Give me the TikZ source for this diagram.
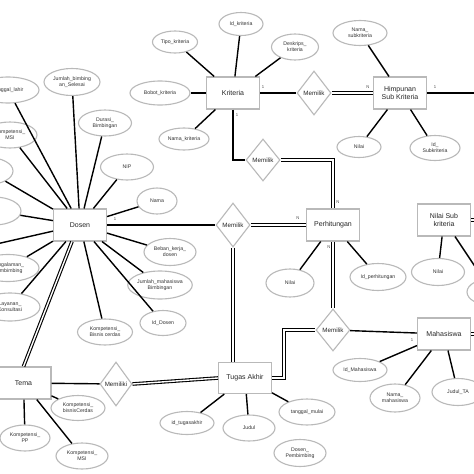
\documentclass[tikz,border=0pt]{standalone}
\usepackage{fontspec}
\newfontfamily\sfx{Liberation Sans}
\usetikzlibrary{shapes.geometric}
\tikzset{
  attr/.style={ellipse, draw=gray!55, line width=1.1pt, fill=white, inner sep=0pt,
    align=center, text=black!80, font=\sfx\fontsize{5.2}{6}\selectfont},
  ent/.style={rectangle, draw=gray!55, line width=1.1pt, fill=white, inner sep=1pt,
    minimum width=53pt, minimum height=32pt, align=center, text=black!85,
    font=\sfx\fontsize{7}{8.5}\selectfont},
  rel/.style={diamond, draw=gray!55, line width=1.1pt, fill=white, inner sep=0.5pt,
    minimum width=34pt, minimum height=44pt, text=black!85,
    font=\sfx\fontsize{6.2}{7}\selectfont},
  conn/.style={line width=1.4pt, black},
  dbl/.style={draw=black, line width=1.1pt, double=white, double distance=1.4pt},
  card/.style={font=\sfx\fontsize{4.2}{5}\selectfont, text=black!70, inner sep=0pt}
}
\newcommand{\att}[6]{\node[attr, minimum width=#4pt, minimum height=#5pt] (#1) at (#2,#3) {#6};}
\begin{document}
\begin{tikzpicture}[x=1pt,y=-1pt]
\useasboundingbox (0,0) rectangle (474,474);
\clip (0,0) rectangle (474,474);
\fill[white] (0,0) rectangle (474,474);

% entities
\node[ent] (Kriteria) at (233,93) {Kriteria};
\node[ent] (Himpunan) at (400,93) {Himpunan\\Sub Kriteria};
\node[ent] (Perh) at (333,225) {Perhitungan};
\node[ent] (Dosen) at (80,225) {Dosen};
\node[ent] (NSK) at (444,220) {Nilai Sub\\kriteria};
\node[ent, minimum width=55pt] (Tema) at (23.5,383) {Tema};
\node[ent, minimum height=31pt] (TA) at (245,378) {Tugas Akhir};
\node[ent] (Mhs) at (444,334) {Mahasiswa};

% relationships
\node[rel] (MK1) at (314,93) {Memilik};
\node[rel, minimum height=42pt] (MK2) at (263,160) {Memilik};
\node[rel] (MK3) at (233,225) {Memilik};
\node[rel, minimum height=42pt] (MK4) at (333,330) {Memilik};
\node[rel, minimum width=32pt] (MK5) at (116,384) {Memiliki};

% attributes
\att{idkrit}{241}{24}{44}{23}{Id\_kriteria}
\att{tipo}{175}{42}{45}{22}{Tipo\_kriteria}
\att{desk}{295}{47}{47}{26}{Deskrips\_\\kriteria}
\att{bobot}{160}{93}{60}{24}{Bobot\_kriteria}
\att{namakrit}{184}{139}{50}{22}{Nama\_kriteria}
\att{namasub}{360}{33}{54}{25}{Nama\_\\subkriteria}
\att{nilaisub}{359}{147}{44}{21}{Nilai}
\att{idsub}{435}{148}{50}{25}{Id\_\\Subkriteria}
\att{nilaip}{290}{283}{48}{28}{Nilai}
\att{idperh}{378}{277}{56}{27}{Id\_perhitungan}
\att{nilainsk}{438}{272}{53}{27}{Nilai}
\att{nskx}{492}{292}{50}{27}{}
\att{tgl}{8}{90}{62}{26}{Tanggal\_lahir}
\att{jbs}{72}{82}{56}{27}{Jumlah\_bimbing\\an\_Selesai}
\att{durasi}{105}{123}{53}{26}{Durasi\_\\Bimbingan}
\att{kmsi}{10}{135}{54}{26}{Kompetensi\_\\MSI}
\att{nip}{127}{167}{53}{26}{NIP}
\att{nama}{157}{201}{40}{26}{Nama}
\att{leftA}{-12}{171}{50}{27}{}
\att{leftB}{-6}{211}{54}{28}{}
\att{pengal}{8}{268}{62}{27}{Pengalaman\_\\Pembimbing}
\att{layanan}{10}{307}{60}{28}{Layanan\_\\Konsultasi}
\att{beban}{170}{252}{52}{27}{Beban\_kerja\_\\dosen}
\att{jmb}{160}{285}{60}{28}{Jumlah\_mahasiswa\\Bimbingan}
\att{iddosen}{163}{323}{46}{25}{Id\_Dosen}
\att{kbc}{105}{332}{55}{26}{Kompetensi\_\\Bisnis cerdas}
\att{kbc2}{78}{408}{54}{25}{Kompetensi\_\\bisnisCerdas}
\att{kpp}{25}{438}{50}{26}{Kompetensi\_\\PP}
\att{kmsi2}{82}{456}{52}{26}{Kompetensi\_\\MSI}
\att{idta}{187}{423}{54}{23}{id\_tugasakhir}
\att{judul}{249}{428}{52}{26}{Judul}
\att{tglm}{307}{412}{56}{26}{tanggal\_mulai}
\att{dospem}{300}{453}{52}{27}{Dosen\_\\Pembimbing}
\att{idmhs}{360}{370}{54}{23}{Id\_Mahasiswa}
\att{namamhs}{395}{398}{50}{28}{Nama\_\\mahasiswa}
\att{judulta}{458}{392}{52}{27}{Judul\_TA}

\coordinate (offL) at (-30,250);
\coordinate (offH) at (480,93);
\coordinate (offN) at (480,220);
\coordinate (offM) at (480,334);

% attribute connectors
\foreach \a in {idkrit,tipo,desk,bobot,namakrit} \draw[conn] (Kriteria) -- (\a);
\foreach \a in {namasub,nilaisub,idsub} \draw[conn] (Himpunan) -- (\a);
\foreach \a in {nilaip,idperh} \draw[conn] (Perh) -- (\a);
\foreach \a in {nilainsk,nskx} \draw[conn] (NSK) -- (\a);
\foreach \a in {tgl,jbs,durasi,kmsi,nip,nama,leftA,leftB,offL,pengal,layanan,beban,jmb,iddosen,kbc} \draw[conn] (Dosen) -- (\a);
\foreach \a in {kbc2,kpp,kmsi2} \draw[conn] (Tema) -- (\a);
\foreach \a in {idta,judul,tglm} \draw[conn] (TA) -- (\a);
\foreach \a in {idmhs,namamhs,judulta} \draw[conn] (Mhs) -- (\a);

% relationship connectors
\draw[conn] (Kriteria) -- (MK1);
\draw[dbl] (MK1.east) -- (Himpunan.west);
\draw[conn] (Himpunan) -- (offH);
\draw[conn] (Kriteria.south) |- (MK2.west);
\draw[dbl] (MK2.east) -| (Perh.north);
\draw[conn] (Dosen) -- (MK3);
\draw[dbl] (MK3.east) -- (Perh.west);
\draw[dbl] (MK3.south) -- (MK3.south |- TA.north);
\draw[dbl] ([xshift=-8pt]Dosen.south) -- (Tema.north);
\draw[conn] (Tema) -- (MK5);
\draw[dbl] (MK5.east) -- (TA.west);
\draw[dbl] (TA.east) -- ++(12,0) |- (MK4.west);
\draw[dbl] (Perh.south) -- (MK4.north);
\draw[conn] (MK4) -- (Mhs);
\draw[dbl] (NSK.east) -- (offN);
\draw[dbl] (Mhs.east) -- (offM);

% cardinalities
\node[card] (c1) at (263,87) {1};
\node[card] (c2) at (368,87) {N};
\node[card] (c3) at (435,87) {1};
\node[card] (c4) at (237,115) {1};
\node[card] (c5) at (338,202) {N};
\node[card] (c6) at (115,219) {1};
\node[card] (c7) at (298,218) {N};
\node[card] (c8) at (329,247) {N};
\node[card] (c9) at (412,340) {1};
\end{tikzpicture}
\end{document}
